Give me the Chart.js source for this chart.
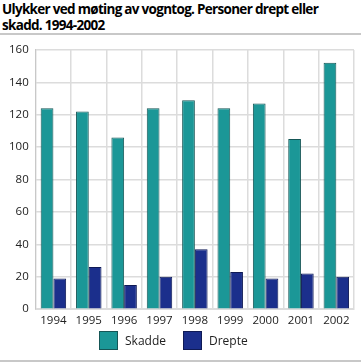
<!DOCTYPE html>
<html>
<head>
<meta charset="utf-8">
<script src="https://cdn.jsdelivr.net/npm/chart.js@4/dist/chart.umd.min.js"></script>
<style>
  html, body { margin: 0; padding: 0; background: #fff; }
  body { width: 361px; height: 363px; position: relative; overflow: hidden; font-family: "Open Sans", sans-serif; }
  #tittel { position: absolute; left: 2px; top: 1px; width: 359px; font-size: 13.5px; letter-spacing: -0.7px; font-weight: bold; line-height: 16px; color: #000; white-space: nowrap; }
  #strek { position: absolute; left: 0; top: 33px; width: 361px; height: 2px; background: #c8c8c8; }
  #bunn { position: absolute; left: 0; top: 360px; width: 361px; height: 2px; background: #c8c8c8; }
  #boks { position: absolute; left: 0; top: 36px; width: 361px; height: 299px; }
  .forklaring { position: absolute; top: 331px; height: 19px; font-size: 12px; color: #222; }
  .forklaring span { display: inline-block; width: 17px; height: 17px; border: 1px solid; vertical-align: top; margin-right: 7px; }
  .forklaring em { font-style: normal; line-height: 19px; vertical-align: top; }
</style>
</head>
<body>
<div id="tittel">Ulykker ved møting av vogntog. Personer drept eller<br>skadd. 1994-2002</div>
<div id="strek"></div>
<div id="boks"><canvas id="diagram"></canvas></div>
<div id="legende"></div>
<div id="bunn"></div>
<script>
const aar = ["1994", "1995", "1996", "1997", "1998", "1999", "2000", "2001", "2002"];
const skadde = [124, 122, 106, 124, 129, 124, 127, 105, 152];
const drepte = [19, 26, 15, 20, 37, 23, 19, 22, 20];

const serier = [
  { navn: "Skadde", verdier: skadde, farge: "#1b9797", kant: "#155656", x: 99 },
  { navn: "Drepte", verdier: drepte, farge: "#1b2f8c", kant: "#0f1a55", x: 183 },
];

document.addEventListener("DOMContentLoaded", () => {
  const legende = document.getElementById("legende");
  serier.forEach((s) => {
    const el = document.createElement("div");
    el.className = "forklaring";
    el.style.left = s.x + "px";
    el.innerHTML = `<span style="background:${s.farge};border-color:${s.kant}"></span><em>${s.navn}</em>`;
    legende.appendChild(el);
  });

  const ctx = document.getElementById("diagram").getContext("2d");
  new Chart(ctx, {
    type: "bar",
    data: {
      labels: aar,
      datasets: serier.map((s) => ({
        label: s.navn,
        data: s.verdier,
        backgroundColor: s.farge,
        borderColor: s.kant,
        borderWidth: 1,
        categoryPercentage: 0.72,
        barPercentage: 1.0,
      })),
    },
    options: {
      responsive: true,
      maintainAspectRatio: false,
      animation: false,
      layout: { padding: { top: 6, right: 7, left: 2, bottom: 2 } },
      scales: {
        x: {
          grid: { color: "#dcdcdc", lineWidth: 1.5, drawTicks: false },
          border: { color: "#dcdcdc" },
          ticks: { color: "#222", font: { family: "Open Sans", size: 11.5 }, padding: 5, maxRotation: 0 },
        },
        y: {
          min: 0,
          max: 160,
          grid: { color: "#dcdcdc", lineWidth: 1.5, drawTicks: false },
          border: { color: "#c8c8c8" },
          ticks: { stepSize: 20, color: "#222", font: { family: "Open Sans", size: 11.5 }, padding: 7 },
        },
      },
      plugins: {
        legend: { display: false },
        tooltip: { enabled: false },
      },
    },
  });
});
</script>
</body>
</html>
